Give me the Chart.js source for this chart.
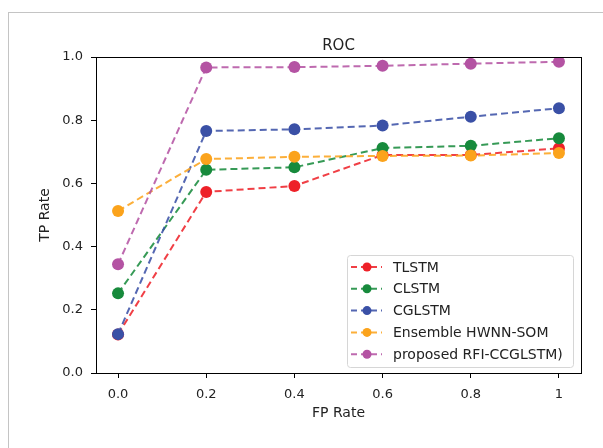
<!DOCTYPE html>
<html>
<head>
<meta charset="utf-8">
<script src="https://cdn.jsdelivr.net/npm/chart.js@4"></script>
<style>
  html, body { margin: 0; padding: 0; background: #fff; }
  #wrap { position: relative; width: 603px; height: 448px; }
  #frame {
    position: absolute; left: 8px; top: 12px; right: 0; bottom: 0;
    border-left: 1px solid #c4c4c4; border-top: 1px solid #c4c4c4;
  }
  canvas { position: absolute; left: 0; top: 0; }
</style>
</head>
<body>
<div id="wrap">
  <div id="frame"></div>
  <canvas id="rocChart" width="603" height="448"></canvas>
</div>
<script>
/* ===============================
   Data
=============================== */

const fpRate = [0.0, 0.2, 0.4, 0.6, 0.8, 1.0];
const xTickValues = [0.0, 0.2, 0.4, 0.6, 0.8, 1.0];
const xTickLabels = ["0.0", "0.2", "0.4", "0.6", "0.8", "1"];
const yTickValues = [0.0, 0.2, 0.4, 0.6, 0.8, 1.0];
const yTickLabels = ["0.0", "0.2", "0.4", "0.6", "0.8", "1.0"];

const seriesNames = ["TLSTM", "CLSTM", "CGLSTM", "Ensemble HWNN-SOM", "proposed RFI-CCGLSTM)"];

const tlstm    = [0.122, 0.573, 0.592, 0.690, 0.690, 0.711];
const clstm    = [0.252, 0.643, 0.651, 0.712, 0.719, 0.743];
const cglstm   = [0.123, 0.766, 0.771, 0.783, 0.811, 0.838];
const ensemble = [0.513, 0.677, 0.684, 0.687, 0.688, 0.696];
const proposed = [0.344, 0.967, 0.968, 0.972, 0.979, 0.985];

const seriesColors = ["#ee2128", "#178a3c", "#3a50a6", "#fba31c", "#b453a3"];

/* ===============================
   Chart
=============================== */

const allSeries = [tlstm, clstm, cglstm, ensemble, proposed];

const datasets = allSeries.map(function (values, i) {
    return {
        label: seriesNames[i],
        data: values.map(function (v, j) { return { x: fpRate[j], y: v }; }),
        borderColor: seriesColors[i] + "dd",
        backgroundColor: seriesColors[i],
        borderWidth: 2,
        borderDash: [7, 4],
        pointRadius: 6,
        pointHoverRadius: 6,
        pointBorderWidth: 0,
        pointBackgroundColor: seriesColors[i],
        tension: 0,
        order: allSeries.length - i
    };
});

const font = "DejaVu Sans";

const framePlugin = {
    id: "framePlugin",
    afterDraw: function (chart) {
        const ctx = chart.ctx;
        const a = chart.chartArea;
        ctx.save();

        // spines
        ctx.strokeStyle = "#000";
        ctx.lineWidth = 1;
        ctx.strokeRect(Math.round(a.left) + 0.5, Math.round(a.top) + 0.5,
            Math.round(a.right - a.left), Math.round(a.bottom - a.top));

        // title and axis titles
        ctx.fillStyle = "#222";
        ctx.font = "15px '" + font + "'";
        ctx.textAlign = "center";
        ctx.textBaseline = "alphabetic";
        ctx.fillText("ROC", (a.left + a.right) / 2, a.top - 7);

        ctx.font = "14px '" + font + "'";
        ctx.textBaseline = "middle";
        ctx.fillText("FP Rate", (a.left + a.right) / 2, 413);
        ctx.save();
        ctx.translate(45, (a.top + a.bottom) / 2);
        ctx.rotate(-Math.PI / 2);
        ctx.fillText("TP Rate", 0, 0);
        ctx.restore();

        // legend
        const boxW = 226, rowH = 21.8;
        const boxH = 112;
        const bx = a.right - 8 - boxW;
        const by = a.bottom - 6 - boxH;
        ctx.fillStyle = "rgba(255,255,255,0.8)";
        ctx.strokeStyle = "#d6d6d6";
        ctx.beginPath();
        ctx.roundRect(bx + 0.5, by + 0.5, boxW, boxH, 3);
        ctx.fill();
        ctx.stroke();

        ctx.font = "14px '" + font + "'";
        ctx.textAlign = "left";
        ctx.textBaseline = "middle";
        chart.data.datasets.forEach(function (ds, i) {
            const cy = by + 12 + i * rowH;
            ctx.strokeStyle = ds.borderColor;
            ctx.lineWidth = 2;
            ctx.setLineDash([6, 4]);
            ctx.beginPath();
            ctx.moveTo(bx + 4, cy);
            ctx.lineTo(bx + 35, cy);
            ctx.stroke();
            ctx.setLineDash([]);
            ctx.fillStyle = ds.backgroundColor;
            ctx.beginPath();
            ctx.arc(bx + 20, cy, 4.5, 0, Math.PI * 2);
            ctx.fill();
            ctx.fillStyle = "#222";
            ctx.fillText(ds.label, bx + 46, cy + 1);
        });

        ctx.restore();
    }
};

new Chart(document.getElementById("rocChart"), {

    type: "line",

    data: { datasets: datasets },

    options: {
        responsive: false,
        animation: false,
        layout: { padding: { left: 0, right: 22, top: 57, bottom: 0 } },
        plugins: {
            legend: { display: false },
            title: { display: false },
            tooltip: { enabled: false }
        },
        scales: {
            x: {
                type: "linear",
                min: -0.05,
                max: 1.05,
                afterBuildTicks: function (scale) {
                    scale.ticks = xTickValues.map(function (v) { return { value: v }; });
                },
                afterFit: function (scale) { scale.height = 75; },
                ticks: {
                    color: "#222",
                    font: { family: font, size: 13 },
                    padding: 9,
                    maxRotation: 0,
                    callback: function (value) {
                        const k = xTickValues.findIndex(function (t) { return Math.abs(t - value) < 1e-9; });
                        return k >= 0 ? xTickLabels[k] : "";
                    }
                },
                grid: { display: true, drawOnChartArea: false, drawTicks: true, tickLength: 5, color: "#000" },
                border: { display: true, color: "#000" }
            },
            y: {
                type: "linear",
                min: 0,
                max: 1,
                afterBuildTicks: function (scale) {
                    scale.ticks = yTickValues.map(function (v) { return { value: v }; });
                },
                afterFit: function (scale) { scale.width = 96; },
                ticks: {
                    color: "#222",
                    font: { family: font, size: 13 },
                    padding: 8,
                    callback: function (value) {
                        const k = yTickValues.findIndex(function (t) { return Math.abs(t - value) < 1e-9; });
                        return k >= 0 ? yTickLabels[k] : "";
                    }
                },
                grid: { display: true, drawOnChartArea: false, drawTicks: true, tickLength: 5, color: "#000" },
                border: { display: true, color: "#000" }
            }
        }
    },

    plugins: [framePlugin]

});
</script>
</body>
</html>
